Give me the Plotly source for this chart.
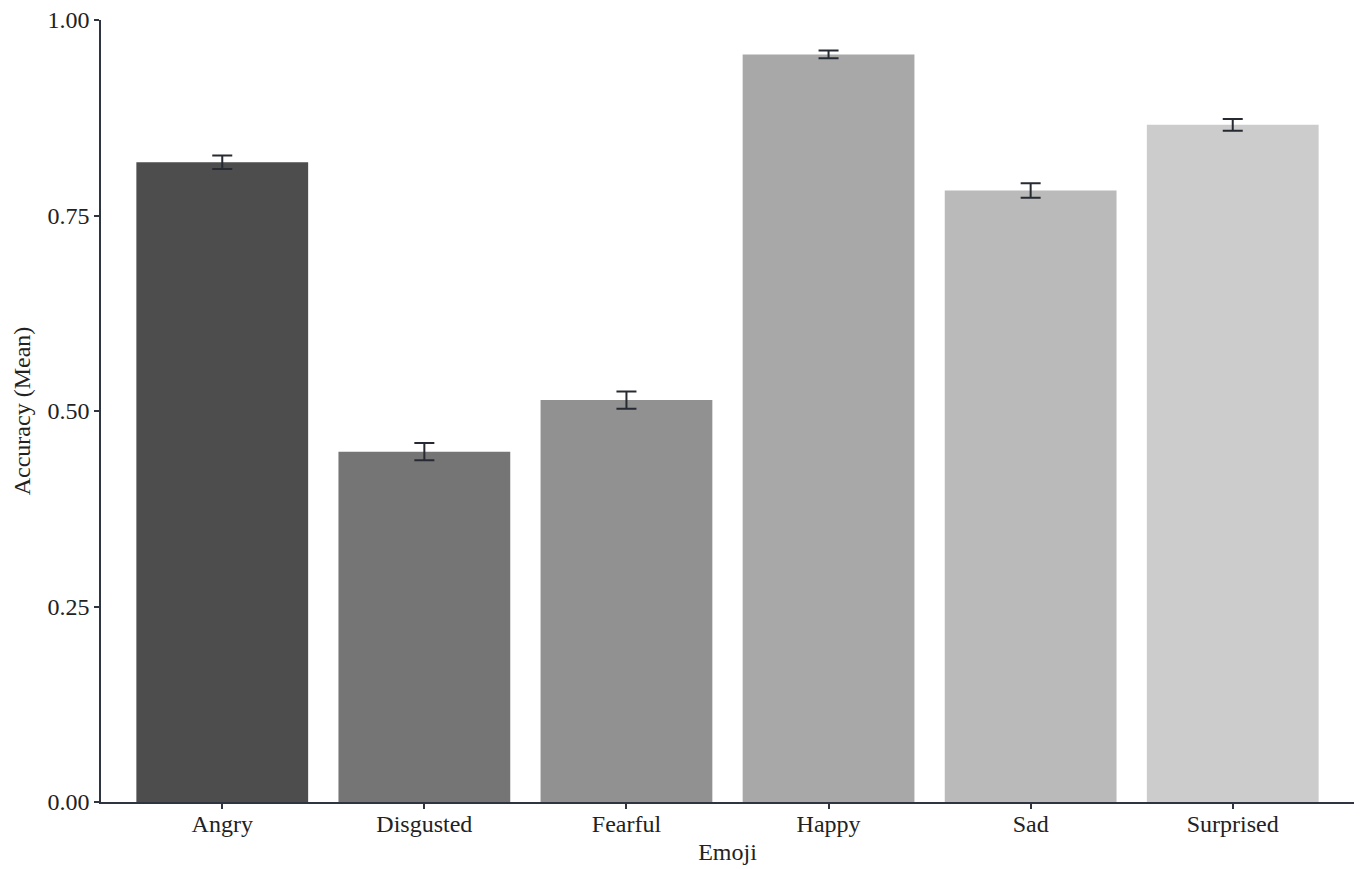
import plotly.graph_objects as go

# Mean recognition accuracy per emoji with standard errors
emojis = ["Angry", "Disgusted", "Fearful", "Happy", "Sad", "Surprised"]
accuracy_mean = [0.818, 0.448, 0.514, 0.956, 0.782, 0.866]
accuracy_se = [0.0086, 0.011, 0.011, 0.005, 0.0094, 0.0075]
bar_colors = ["#4d4d4d", "#757575", "#919191", "#a8a8a8", "#bababa", "#cccccc"]
y_ticks = [0.0, 0.25, 0.5, 0.75, 1.0]
y_tick_text = ["0.00", "0.25", "0.50", "0.75", "1.00"]

axis_color = "#2e3440"
font_family = "Liberation Serif, Times New Roman, serif"
text_size = 24

fig = go.Figure(
    go.Bar(
        x=emojis,
        y=accuracy_mean,
        width=0.85,
        marker=dict(color=bar_colors, line=dict(width=0)),
        error_y=dict(
            type="data",
            array=accuracy_se,
            visible=True,
            color="#262a33",
            thickness=2,
            width=10,
        ),
        showlegend=False,
    )
)

fig.update_layout(
    width=1361,
    height=869,
    margin=dict(l=101, r=7, t=20, b=67),
    paper_bgcolor="white",
    plot_bgcolor="white",
    font=dict(family=font_family, size=text_size, color="#222222"),
    bargap=0.15,
)

fig.update_xaxes(
    range=[-0.6, 5.6],
    showline=True,
    linecolor=axis_color,
    linewidth=1.5,
    ticks="outside",
    ticklen=5,
    tickwidth=1.5,
    tickcolor=axis_color,
    ticklabelstandoff=-6,
    showgrid=False,
    zeroline=False,
    tickfont=dict(size=text_size, family=font_family, color="#222222"),
    title=dict(text="Emoji", font=dict(size=text_size, family=font_family), standoff=8),
)

fig.update_yaxes(
    range=[0, 1.0],
    tickvals=y_ticks,
    ticktext=y_tick_text,
    showline=True,
    linecolor=axis_color,
    linewidth=1.5,
    ticks="outside",
    ticklen=5,
    tickwidth=1.5,
    tickcolor=axis_color,
    showgrid=False,
    zeroline=False,
    tickfont=dict(size=text_size, family=font_family, color="#222222"),
    title=dict(text="Accuracy (Mean)", font=dict(size=text_size, family=font_family), standoff=10),
)

fig.write_html("out.html")
